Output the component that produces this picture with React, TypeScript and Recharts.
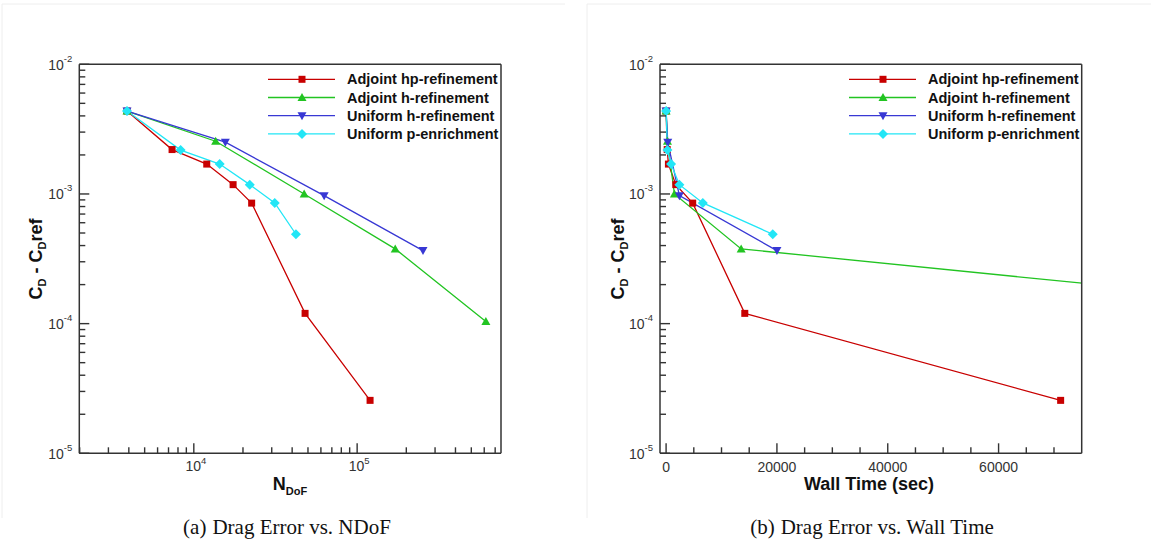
import React from 'react';
import { LineChart, Line, XAxis, YAxis } from 'recharts';

// Drag error against degrees of freedom and wall time, four refinement strategies.
const seriesNames = [
  'Adjoint hp-refinement',
  'Adjoint h-refinement',
  'Uniform h-refinement',
  'Uniform p-enrichment',
];
const seriesColors = ['#c80000', '#22c422', '#3838d4', '#22e6f6'];
const seriesShapes = ['square', 'triUp', 'triDown', 'diamond'];

// Adjoint hp-refinement
const ndofHp = [3900, 7360, 12000, 17400, 22600, 48000, 120000];
const timeHp = [0, 200, 420, 1750, 4800, 14200, 71200];
const errHp = [4.36e-3, 2.2e-3, 1.7e-3, 1.18e-3, 8.5e-4, 1.2e-4, 2.56e-5];

// Adjoint h-refinement
const ndofH = [3900, 13600, 47400, 171000, 614000];
const timeH = [0, 250, 1500, 13550, 143700];
const errH = [4.36e-3, 2.55e-3, 1.0e-3, 3.77e-4, 1.04e-4];

// Uniform h-refinement
const ndofUh = [3900, 15600, 62800, 253000];
const timeUh = [0, 300, 2400, 20000];
const errUh = [4.36e-3, 2.51e-3, 9.7e-4, 3.66e-4];

// Uniform p-enrichment
const ndofUp = [3900, 8300, 14400, 22000, 31300, 42200];
const timeUp = [0, 240, 900, 2400, 6630, 19250];
const errUp = [4.36e-3, 2.18e-3, 1.7e-3, 1.18e-3, 8.53e-4, 4.89e-4];

const ndofs = [ndofHp, ndofH, ndofUh, ndofUp];
const times = [timeHp, timeH, timeUh, timeUp];
const errs = [errHp, errH, errUh, errUp];

// axis ticks
const yDecades = [1e-5, 1e-4, 1e-3, 1e-2];
const ndofDecades = [1e3, 1e4, 1e5];
const timeMajor = [0, 20000, 40000, 60000];
const timeMinor = [5000, 10000, 15000, 25000, 30000, 35000, 45000, 50000, 55000, 65000, 70000];

const yDomain: [number, number] = [1e-5, 1e-2];
const ndofDomain: [number, number] = [1990, 760000];
const timeDomain: [number, number] = [-1100, 75000];

const logTicks = (decades: number[], lo: number, hi: number) => {
  const out: number[] = [];
  decades.forEach((d) => {
    for (let m = 1; m <= 9; m++) {
      const v = m * d;
      if (v >= lo * 0.999 && v <= hi * 1.001) out.push(v);
    }
  });
  return out;
};
const yTicks = logTicks(yDecades, yDomain[0], yDomain[1]);
const ndofTicks = logTicks(ndofDecades, ndofDomain[0], ndofDomain[1]);
const timeTicks = [...timeMajor, ...timeMinor].sort((a, b) => a - b);

const isDecade = (v: number) => Math.abs(Math.log10(v) - Math.round(Math.log10(v))) < 1e-6;

const AXIS = '#333';
const LABEL = '#333';
const SANS = '"Liberation Sans", Arial, Helvetica, sans-serif';
const SERIF = '"Liberation Serif", "Times New Roman", serif';

const Marker = ({ cx, cy, shape, color }: any) => {
  if (cx == null || cy == null) return null;
  if (shape === 'square') return <rect x={cx - 3.5} y={cy - 3.5} width={7} height={7} fill={color} />;
  if (shape === 'triUp')
    return <polygon points={`${cx},${cy - 4.5} ${cx + 4.5},${cy + 3.5} ${cx - 4.5},${cy + 3.5}`} fill={color} />;
  if (shape === 'triDown')
    return <polygon points={`${cx},${cy + 4.5} ${cx + 4.5},${cy - 3.5} ${cx - 4.5},${cy - 3.5}`} fill={color} />;
  return <polygon points={`${cx},${cy - 5} ${cx + 5},${cy} ${cx},${cy + 5} ${cx - 5},${cy}`} fill={color} />;
};

// tick marks point into the plot; decade ticks are longer and carry a 10^n label
const LogYTick = (props: any) => {
  const { x, y, payload } = props;
  const v = payload.value;
  const major = isDecade(v);
  return (
    <g>
      <path d={`M${x},${y}h${major ? 10 : 6}`} stroke={AXIS} strokeWidth={1.4} fill="none" />
      {major && (
        <text x={x - 7} y={y + 5.5} textAnchor="end" fontSize={14} fill={LABEL} stroke="none" fontFamily={SANS}>
          <tspan>10</tspan>
          <tspan dy={-8} fontSize={9.5}>{String(Math.round(Math.log10(v)))}</tspan>
        </text>
      )}
    </g>
  );
};

const LogXTick = (props: any) => {
  const { x, y, payload } = props;
  const v = payload.value;
  const major = isDecade(v);
  return (
    <g>
      <path d={`M${x},${y}v${major ? -10 : -6}`} stroke={AXIS} strokeWidth={1.4} fill="none" />
      {major && (
        <text x={x + 2} y={y + 18} textAnchor="middle" fontSize={14} fill={LABEL} stroke="none" fontFamily={SANS}>
          <tspan>10</tspan>
          <tspan dy={-7} fontSize={9.5}>{String(Math.round(Math.log10(v)))}</tspan>
        </text>
      )}
    </g>
  );
};

const LinXTick = (props: any) => {
  const { x, y, payload } = props;
  const v = payload.value;
  const major = timeMajor.includes(v);
  return (
    <g>
      <path d={`M${x},${y}v${major ? -10 : -6}`} stroke={AXIS} strokeWidth={1.4} fill="none" />
      {major && (
        <text x={x} y={y + 19} textAnchor="middle" fontSize={14} fill={LABEL} stroke="none" fontFamily={SANS}>
          {v}
        </text>
      )}
    </g>
  );
};

const ErrorChart = ({ xs, xDomain, xTicks, xScale, XTick, margin, width }: any) => (
  <LineChart width={width} height={550} margin={margin}>
    <XAxis
      type="number"
      dataKey="x"
      scale={xScale}
      domain={xDomain}
      allowDataOverflow
      ticks={xTicks}
      interval={0}
      tick={(p: any) => <XTick {...p} />}
      tickLine={false}
      tickSize={0}
      tickMargin={0}
      height={1}
      axisLine={{ stroke: AXIS, strokeWidth: 1.5 }}
    />
    <YAxis
      type="number"
      dataKey="y"
      scale="log"
      domain={yDomain}
      allowDataOverflow
      ticks={yTicks}
      interval={0}
      tick={(p: any) => <LogYTick {...p} />}
      tickLine={false}
      tickSize={0}
      tickMargin={0}
      width={1}
      axisLine={{ stroke: AXIS, strokeWidth: 1.5 }}
    />
    {/* plain top and right edges close the plot frame */}
    <XAxis
      xAxisId="top"
      orientation="top"
      type="number"
      domain={[0, 1]}
      height={1}
      tick={false}
      tickLine={false}
      axisLine={{ stroke: AXIS, strokeWidth: 1.5 }}
    />
    <YAxis
      yAxisId="right"
      orientation="right"
      type="number"
      domain={[0, 1]}
      width={1}
      tick={false}
      tickLine={false}
      axisLine={{ stroke: AXIS, strokeWidth: 1.5 }}
    />
    {seriesNames.map((name, s) => (
      <Line
        key={name}
        name={name}
        data={xs[s].map((x: number, i: number) => ({ x, y: errs[s][i] }))}
        dataKey="y"
        type="linear"
        stroke={seriesColors[s]}
        strokeWidth={1.3}
        dot={(p: any) => (
          <Marker key={`${name}-${p.index}`} cx={p.cx} cy={p.cy} shape={seriesShapes[s]} color={seriesColors[s]} />
        )}
        activeDot={false}
        isAnimationActive={false}
      />
    ))}
  </LineChart>
);

const LegendBox = ({ x0 }: { x0: number }) => (
  <g>
    {seriesNames.map((name, s) => {
      const y = 79.3 + 18.2 * s;
      return (
        <g key={name}>
          <line x1={x0} y1={y} x2={x0 + 67} y2={y} stroke={seriesColors[s]} strokeWidth={1.3} />
          <Marker cx={x0 + 34} cy={y} shape={seriesShapes[s]} color={seriesColors[s]} />
          <text x={x0 + 79} y={y + 5} fontSize={14.5} fontWeight="bold" fontFamily={SANS} fill="#111">
            {name}
          </text>
        </g>
      );
    })}
  </g>
);

const YTitle = ({ x }: { x: number }) => (
  <text
    transform={`translate(${x},259) rotate(-90)`}
    textAnchor="middle"
    fontSize={18}
    fontWeight="bold"
    fontFamily={SANS}
    fill="#111"
  >
    <tspan>C</tspan>
    <tspan dy={4} fontSize={11}>D</tspan>
    <tspan dy={-4}> - C</tspan>
    <tspan dy={4} fontSize={11}>D</tspan>
    <tspan dy={-4}>ref</tspan>
  </text>
);

export default function App() {
  return (
    <div style={{ position: 'absolute', left: 0, top: 0, width: 1151, height: 550, background: '#fff' }}>
      <div style={{ position: 'absolute', left: 0, top: 0 }}>
        <ErrorChart
          width={575}
          xs={ndofs}
          xDomain={ndofDomain}
          xTicks={ndofTicks}
          xScale="log"
          XTick={LogXTick}
          margin={{ top: 63.3, right: 73, bottom: 95.7, left: 78.3 }}
        />
      </div>
      <div style={{ position: 'absolute', left: 575, top: 0 }}>
        <ErrorChart
          width={576}
          xs={times}
          xDomain={timeDomain}
          xTicks={timeTicks}
          xScale="linear"
          XTick={LinXTick}
          margin={{ top: 63.3, right: 68.3, bottom: 95.7, left: 84 }}
        />
      </div>
      <svg
        width={1151}
        height={550}
        style={{ position: 'absolute', left: 0, top: 0, pointerEvents: 'none' }}
      >
        <polyline points="2,518 2,4 565,4" fill="none" stroke="#eeeeee" strokeWidth={1} />
        <polyline points="587,518 587,4 1151,4" fill="none" stroke="#eeeeee" strokeWidth={1} />
        <LegendBox x0={268} />
        <LegendBox x0={849} />
        <YTitle x={42} />
        <YTitle x={624} />
        <text x={290} y={490} textAnchor="middle" fontSize={18} fontWeight="bold" fontFamily={SANS} fill="#111">
          <tspan>N</tspan>
          <tspan dy={5} fontSize={11}>DoF</tspan>
        </text>
        <text x={869} y={490} textAnchor="middle" fontSize={18} fontWeight="bold" fontFamily={SANS} fill="#111">
          Wall Time (sec)
        </text>
        <text x={287} y={534} textAnchor="middle" fontSize={21} fontFamily={SERIF} fill="#111">
          <tspan>(a)</tspan>
          <tspan dx={6}>Drag Error vs. NDoF</tspan>
        </text>
        <text x={872} y={534} textAnchor="middle" fontSize={21} fontFamily={SERIF} fill="#111">
          <tspan>(b)</tspan>
          <tspan dx={6}>Drag Error vs. Wall Time</tspan>
        </text>
      </svg>
    </div>
  );
}
